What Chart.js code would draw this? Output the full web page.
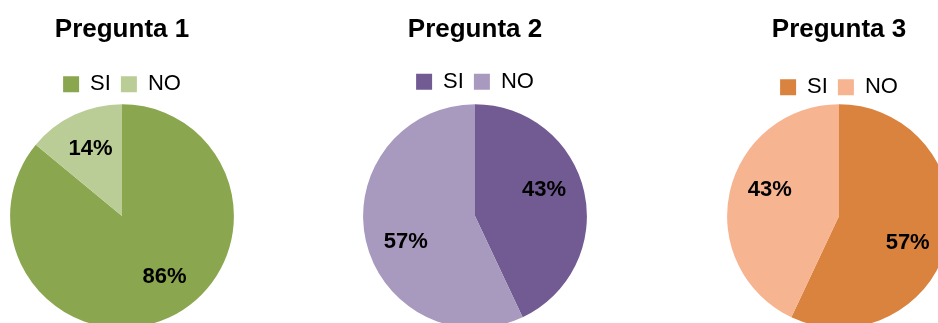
<!DOCTYPE html>
<html>
<head>
<meta charset="utf-8">
<script src="https://cdn.jsdelivr.net/npm/chart.js@4/dist/chart.umd.min.js"></script>
<style>
  html, body { margin: 0; padding: 0; background: #fff; overflow: hidden; width: 938px; height: 323px; }
  .pie { position: absolute; top: 0; width: 244px; height: 328px; }
</style>
</head>
<body>
<div class="pie" style="left: 0px;"><canvas id="pie1"></canvas></div>
<div class="pie" style="left: 353px;"><canvas id="pie2"></canvas></div>
<div class="pie" style="left: 717px;"><canvas id="pie3"></canvas></div>
<script>
const categories = ["SI", "NO"];
const pregunta1 = [86, 14];
const pregunta2 = [43, 57];
const pregunta3 = [57, 43];
const titles = ["Pregunta 1", "Pregunta 2", "Pregunta 3"];

// percentage written inside each slice, turned a few degrees off the bisector when asked
const pctLabels = {
  id: "pctLabels",
  afterDatasetsDraw(chart, args, opts) {
    const ctx = chart.ctx;
    const meta = chart.getDatasetMeta(0);
    const data = chart.data.datasets[0].data;
    const turn = opts.turn || [];
    ctx.save();
    ctx.font = "bold 22px 'Liberation Sans', Arial, sans-serif";
    ctx.fillStyle = "#000";
    ctx.textAlign = "center";
    ctx.textBaseline = "middle";
    meta.data.forEach(function (arc, i) {
      const p = arc.getProps(["x", "y", "startAngle", "endAngle", "outerRadius"], true);
      const mid = (p.startAngle + p.endAngle) / 2 + ((turn[i] || 0) * Math.PI) / 180;
      const r = p.outerRadius * 0.66;
      ctx.fillText(data[i] + "%", p.x + Math.cos(mid) * r, p.y + Math.sin(mid) * r);
    });
    ctx.restore();
  },
};

// lets each chart nudge the space left under its legend
const legendGap = {
  id: "legendGap",
  afterInit(chart, args, opts) {
    const legend = chart.legend;
    if (!legend) return;
    const fit = legend.fit;
    legend.fit = function () {
      fit.call(this);
      this.height += opts.extra || 0;
    };
  },
};

function makePie(id, title, values, colors, titleGap, legendExtra, turn) {
  const ctx = document.getElementById(id);
  new Chart(ctx, {
    type: "pie",
    data: {
      labels: categories,
      datasets: [
        {
          data: values,
          backgroundColor: colors,
          borderWidth: 0,
        },
      ],
    },
    options: {
      responsive: true,
      maintainAspectRatio: false,
      animation: false,
      events: [],
      layout: { padding: { left: 10, right: 10, top: 0, bottom: 0 } },
      plugins: {
        title: {
          display: true,
          text: title,
          color: "#000",
          font: { family: "'Liberation Sans', Arial, sans-serif", size: 26, weight: "bold", lineHeight: 1.2 },
          padding: { top: 14, bottom: titleGap },
        },
        legend: {
          position: "top",
          labels: {
            color: "#000",
            boxWidth: 16,
            boxHeight: 16,
            padding: 10,
            font: { family: "'Liberation Sans', Arial, sans-serif", size: 22 },
          },
        },
        tooltip: { enabled: false },
        legendGap: { extra: legendExtra },
        pctLabels: { turn: turn },
      },
    },
    plugins: [pctLabels, legendGap],
  });
}

makePie("pie1", titles[0], pregunta1, ["#8aa64f", "#bbcd96"], 18, -1, [-10, 0]);
makePie("pie2", titles[1], pregunta2, ["#725a93", "#a899be"], 15.5, 1.5, [-8, -8]);
makePie("pie3", titles[2], pregunta3, ["#d9833f", "#f6b491"], 21, -4, [9, 8]);
</script>
</body>
</html>
